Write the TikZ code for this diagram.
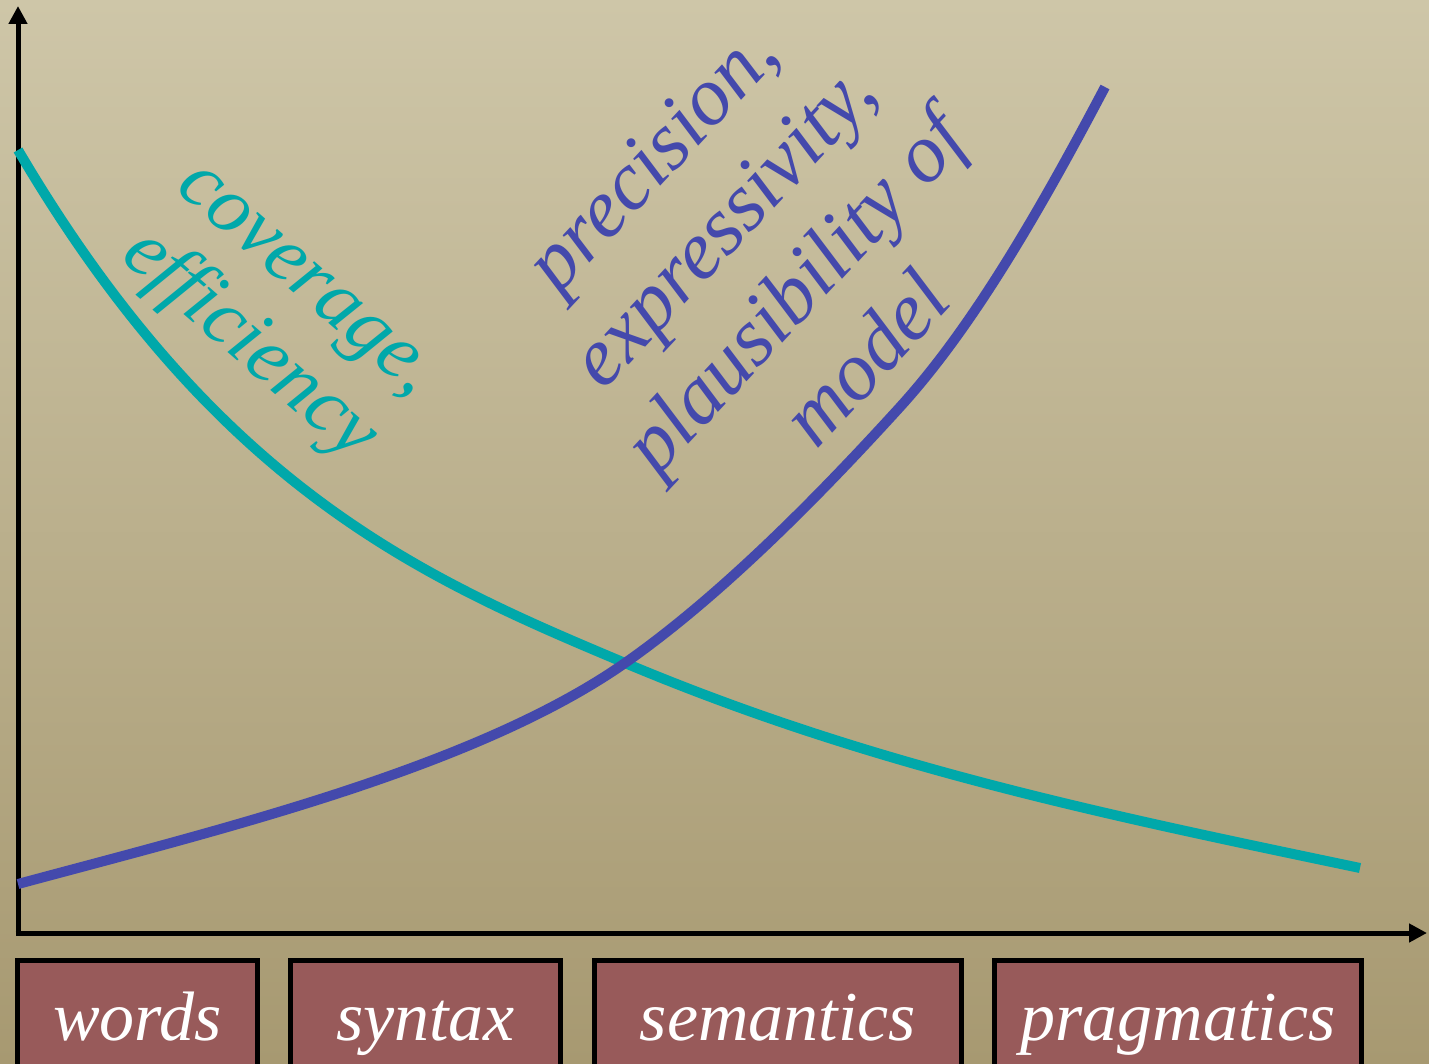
\documentclass[tikz,border=0pt]{standalone}
\usepackage{fontspec}
\setmainfont{Liberation Serif}
\usetikzlibrary{arrows.meta}
\definecolor{tanlight}{RGB}{206,198,168}
\definecolor{tandark}{RGB}{167,153,113}
\definecolor{curveteal}{RGB}{0,168,170}
\definecolor{curveblue}{RGB}{68,73,172}
\definecolor{boxred}{RGB}{152,90,90}
\tikzset{
  axis/.style={line width=2.5pt,-{Triangle[length=9pt,width=9pt]}},
  curve/.style={line width=5pt},
  curvelabel/.style={align=center,inner sep=0pt,font=\itshape},
  levelbox/.style={draw=black,line width=2.5pt,fill=boxred,anchor=north west,
    inner sep=0pt,outer sep=0pt,minimum height=61.5pt,text=white,
    font=\fontsize{35pt}{40pt}\selectfont\itshape,text height=27.5pt,text depth=8.75pt},
}
\begin{document}
\begin{tikzpicture}[x=.5pt,y=.5pt]
  \useasboundingbox (0,0) rectangle (1429,-1064);
  \clip (0,0) rectangle (1429,-1064);
  \shade[top color=tanlight,bottom color=tandark] (0,0) rectangle (1429,-1064);
  \coordinate (o) at (18,-933);
  \coordinate (ytop) at (18,-6);
  \coordinate (xend) at (1427,-933);
  \coordinate (cross) at (625,-663);
  \draw[axis] ([yshift=-1.25pt]o) -- (ytop);
  \draw[axis] ([xshift=-1.25pt]o) -- (xend);
  \draw[curve,curveteal] (18,-150) .. controls (218,-490) and (425,-579) .. (cross)
    .. controls (875,-768) and (1110,-815.5) .. (1360,-868);
  \draw[curve,curveblue] (18,-884) .. controls (218,-830) and (475,-768) .. (cross)
    .. controls (715,-600) and (810,-506) .. (900,-407)
    .. controls (970,-330) and (1035,-220) .. (1105,-87);
  \node[curvelabel,text=curveteal,rotate=-41,font=\fontsize{40.5pt}{44pt}\selectfont\itshape]
    (cov) at (272,-319) {coverage,\\efficiency};
  \node[curvelabel,text=curveblue,rotate=47,font=\fontsize{41.5pt}{49pt}\selectfont\itshape]
    (prec) at (758,-258) {precision,\\expressivity,\\plausibility of\\model};
  \node[levelbox,minimum width=120pt] (words) at (17.5,-960.5) {words};
  \node[levelbox,minimum width=135pt] (syntax) at (290.5,-960.5) {syntax};
  \node[levelbox,minimum width=183.5pt] (semantics) at (594.5,-960.5) {semantics};
  \node[levelbox,minimum width=183.5pt] (pragmatics) at (994.5,-960.5) {pragmatics};
\end{tikzpicture}
\end{document}
